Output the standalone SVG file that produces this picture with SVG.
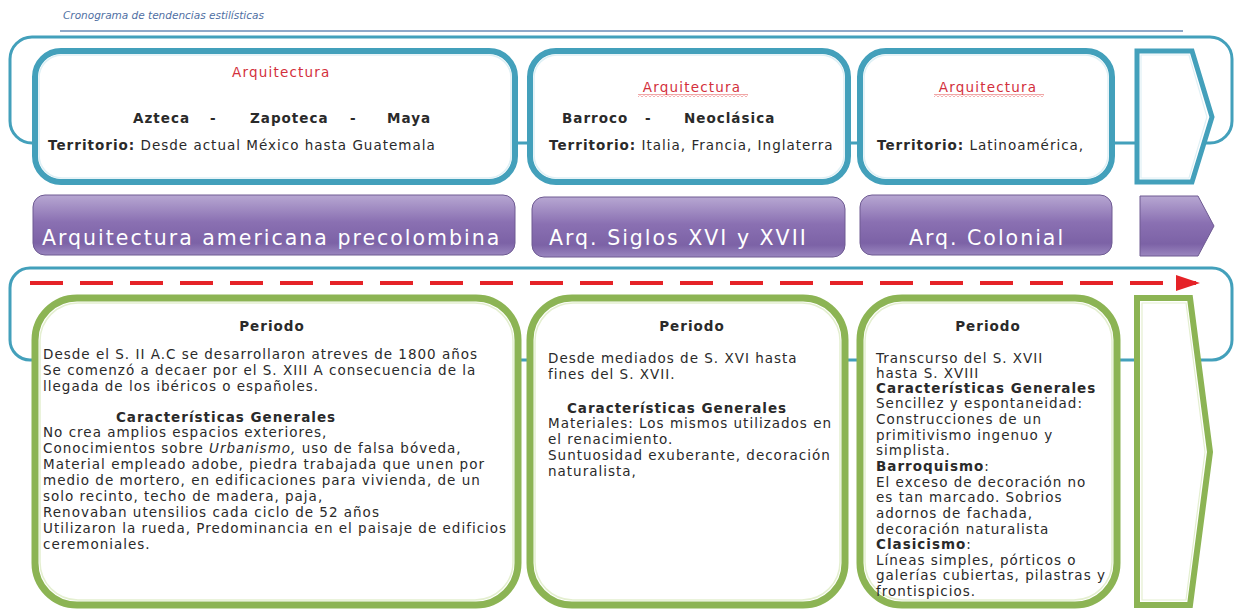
<svg xmlns="http://www.w3.org/2000/svg" width="1237" height="610" viewBox="0 0 1237 610">
<defs>
<linearGradient id="pg" x1="0" y1="0" x2="0" y2="1">
<stop offset="0" stop-color="#b7a7d2"/>
<stop offset="0.45" stop-color="#8a70b2"/>
<stop offset="0.8" stop-color="#7c62a6"/>
<stop offset="1" stop-color="#9a86bf"/>
</linearGradient>
<pattern id="sq" width="4" height="3" patternUnits="userSpaceOnUse">
<path d="M0,2.5 L2,0.5 L4,2.5" stroke="#e03a3a" fill="none" stroke-width="0.9"/>
</pattern>
<style>
.t{font-family:"DejaVu Sans","Liberation Sans",sans-serif;fill:#2a2a2a;font-size:13.5px;letter-spacing:1px}
.b{font-weight:bold}
.teal{fill:#fff;stroke:#43a0bb;stroke-width:6}
.tealin{fill:none;stroke:#dff0f5;stroke-width:1.5}
.grn{fill:#fff;stroke:#8cb454;stroke-width:7}
.grnin{fill:none;stroke:#e4efd0;stroke-width:1.5}
.pur{fill:url(#pg);stroke:#6e5a92;stroke-width:1}
.pt{font-family:"DejaVu Sans","Liberation Sans",sans-serif;fill:#fff;font-size:20.5px;letter-spacing:2px}
.red{font-family:"DejaVu Sans","Liberation Sans",sans-serif;fill:#d3303c;font-size:13.5px;letter-spacing:1.2px}
.sq{fill:url(#sq)}
</style>
</defs>
<rect width="1237" height="610" fill="#fff"/>
<text x="63" y="19" font-family="DejaVu Sans, sans-serif" font-style="italic" font-size="10.5" fill="#4f6fa3">Cronograma de tendencias estilísticas</text>
<line x1="60" y1="31" x2="1183" y2="31" stroke="#8ea8c8" stroke-width="2"/>

<g id="connectors">
<rect x="10" y="37" width="1222" height="106" rx="22" fill="none" stroke="#43a0bb" stroke-width="3"/>
<rect x="10" y="268" width="1222" height="92" rx="20" fill="none" stroke="#43a0bb" stroke-width="3"/>
</g>

<g id="top1">
<rect class="teal" x="35" y="51" width="480" height="131" rx="26"/>
<rect class="tealin" x="39" y="55" width="472" height="123" rx="23"/>
<text class="red" x="232" y="77">Arquitectura</text>
<text class="t b" x="133" y="123">Azteca</text>
<text class="t b" x="210" y="123">-</text>
<text class="t b" x="250" y="123">Zapoteca</text>
<text class="t b" x="350" y="123">-</text>
<text class="t b" x="387" y="123">Maya</text>
<text class="t" x="48" y="150"><tspan class="b">Territorio:</tspan> Desde actual México hasta Guatemala</text>
</g>

<g id="top2">
<rect class="teal" x="530" y="51" width="318" height="131" rx="26"/>
<rect class="tealin" x="534" y="55" width="310" height="123" rx="23"/>
<text class="red" x="692" y="92" text-anchor="middle">Arquitectura</text>
<rect class="sq" x="638" y="94" width="110" height="3"/>
<text class="t b" x="562" y="123">Barroco</text>
<text class="t b" x="645" y="123">-</text>
<text class="t b" x="684" y="123">Neoclásica</text>
<text class="t" x="549" y="150"><tspan class="b">Territorio:</tspan> Italia, Francia, Inglaterra</text>
</g>

<g id="top3">
<rect class="teal" x="860" y="51" width="252" height="131" rx="26"/>
<rect class="tealin" x="864" y="55" width="244" height="123" rx="23"/>
<text class="red" x="988" y="92" text-anchor="middle">Arquitectura</text>
<rect class="sq" x="934" y="94" width="110" height="3"/>
<text class="t" x="877" y="150"><tspan class="b">Territorio:</tspan> Latinoamérica,</text>
</g>

<g id="top4">
<polygon points="1137,51 1192,51 1212,117 1192,182 1137,182" fill="#fff" stroke="#43a0bb" stroke-width="5"/>
<polygon points="1141,55 1189,55 1207,117 1189,178 1141,178" fill="none" stroke="#dff0f5" stroke-width="1.2"/>
</g>

<g id="bar1">
<rect class="pur" x="33" y="195" width="482" height="60" rx="12"/>
<text class="pt" x="42" y="245">Arquitectura americana precolombina</text>
</g>
<g id="bar2">
<rect class="pur" x="532" y="197" width="313" height="60" rx="12"/>
<text class="pt" x="549" y="245">Arq. Siglos XVI  y  XVII</text>
</g>
<g id="bar3">
<rect class="pur" x="860" y="195" width="252" height="60" rx="12"/>
<text class="pt" x="987" y="245" text-anchor="middle">Arq. Colonial</text>
</g>
<g id="bar4">
<polygon class="pur" points="1140,196 1198,196 1214,226 1198,256 1140,256"/>
</g>

<g id="timeline">
<line x1="30" y1="283" x2="1196" y2="283" stroke="#e52227" stroke-width="4" stroke-dasharray="33 17"/>
<polygon points="1176,275 1200,283 1176,291" fill="#e52227"/>
</g>

<g id="box1">
<rect class="grn" x="35" y="298" width="483" height="307" rx="42"/>
<rect class="grnin" x="40" y="303" width="473" height="297" rx="38"/>
<text class="t b" x="272" y="331" text-anchor="middle">Periodo</text>
<g class="t">
<text x="43" y="359">Desde el S. II  A.C se desarrollaron atreves de 1800 años</text>
<text x="43" y="375">Se comenzó a decaer por el S. XIII A consecuencia de la</text>
<text x="43" y="391">llegada de los ibéricos o españoles.</text>
<text x="226" y="422" class="b" text-anchor="middle">Características Generales</text>
<text x="43" y="437">No crea amplios espacios exteriores,</text>
<text x="43" y="453">Conocimientos sobre <tspan font-style="italic">Urbanismo,</tspan> uso de falsa bóveda,</text>
<text x="43" y="469">Material empleado adobe, piedra trabajada que unen por</text>
<text x="43" y="485">medio de mortero, en edificaciones para vivienda, de un</text>
<text x="43" y="501">solo recinto, techo de madera, paja,</text>
<text x="43" y="517">Renovaban utensilios cada ciclo de 52 años</text>
<text x="43" y="533">Utilizaron la rueda, Predominancia en el paisaje de edificios</text>
<text x="43" y="549">ceremoniales.</text>
</g>
</g>

<g id="box2">
<rect class="grn" x="530" y="298" width="315" height="307" rx="42"/>
<rect class="grnin" x="535" y="303" width="305" height="297" rx="38"/>
<text class="t b" x="692" y="331" text-anchor="middle">Periodo</text>
<g class="t">
<text x="548" y="363">Desde mediados de S. XVI hasta</text>
<text x="548" y="379">fines del S. XVII.</text>
<text x="677" y="413" class="b" text-anchor="middle">Características Generales</text>
<text x="548" y="428">Materiales: Los mismos utilizados en</text>
<text x="548" y="444">el renacimiento.</text>
<text x="548" y="460">Suntuosidad exuberante, decoración</text>
<text x="548" y="476">naturalista,</text>
</g>
</g>

<g id="box3">
<rect class="grn" x="860" y="298" width="257" height="307" rx="42"/>
<rect class="grnin" x="865" y="303" width="247" height="297" rx="38"/>
<text class="t b" x="988" y="331" text-anchor="middle">Periodo</text>
<g class="t">
<text x="876" y="363">Transcurso del S. XVII</text>
<text x="876" y="378">hasta S. XVIII</text>
<text x="876" y="393" class="b">Características Generales</text>
<text x="876" y="408">Sencillez y espontaneidad:</text>
<text x="876" y="424">Construcciones de un</text>
<text x="876" y="440">primitivismo ingenuo y</text>
<text x="876" y="455">simplista.</text>
<text x="876" y="471"><tspan class="b">Barroquismo</tspan>:</text>
<text x="876" y="487">El exceso de decoración no</text>
<text x="876" y="502">es tan marcado. Sobrios</text>
<text x="876" y="518">adornos de fachada,</text>
<text x="876" y="534">decoración naturalista</text>
<text x="876" y="549"><tspan class="b">Clasicismo</tspan>:</text>
<text x="876" y="565">Líneas simples, pórticos o</text>
<text x="876" y="580">galerías cubiertas, pilastras y</text>
<text x="876" y="596">frontispicios.</text>
</g>
</g>

<g id="box4">
<polygon points="1137,298 1190,298 1210,452 1190,605 1137,605" fill="#fff" stroke="#8cb454" stroke-width="6"/>
<polygon points="1142,303 1186,303 1205,452 1186,600 1142,600" fill="none" stroke="#e4efd0" stroke-width="1.2"/>
</g>
</svg>
